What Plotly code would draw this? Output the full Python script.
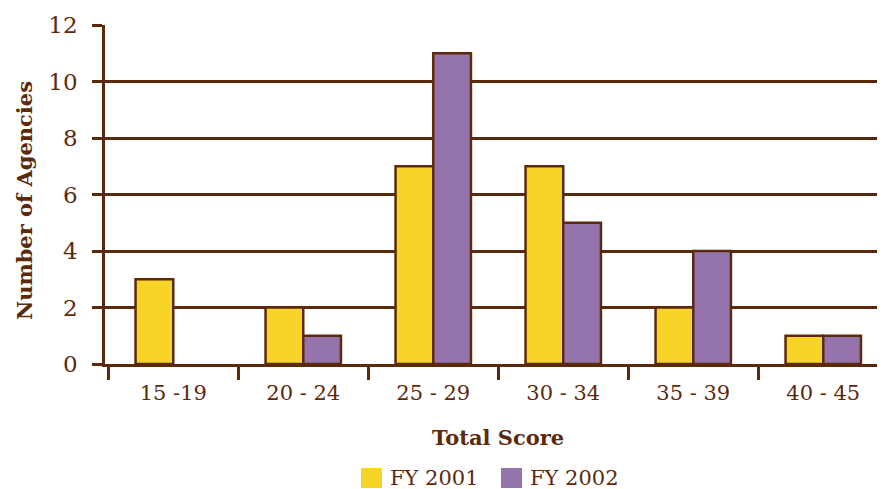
import plotly.graph_objs as go

# data
score_bands = ["15 -19", "20 - 24", "25 - 29", "30 - 34", "35 - 39", "40 - 45"]
fy2001 = [3, 2, 7, 7, 2, 1]
fy2002 = [None, 1, 11, 5, 4, 1]
y_ticks = [0, 2, 4, 6, 8, 10, 12]

brown = "#5b2a0c"
yellow = "#f7d428"
purple = "#9574ad"
font_name = "DejaVu Serif"

# the page body has an 8px margin, so the figure sits at (8, 8)
OFF = 8
W, H = 885 - OFF, 489 - OFF
L, R, T, B = 105 - OFF, 0, 25 - OFF, 489 - 364

fig = go.Figure()
fig.add_trace(go.Bar(x=score_bands, y=fy2001, name="FY 2001",
                     marker=dict(color=yellow, line=dict(color=brown, width=2.5))))
fig.add_trace(go.Bar(x=score_bands, y=fy2002, name="FY 2002",
                     marker=dict(color=purple, line=dict(color=brown, width=2.5))))


def px(x):
    # window pixel -> paper coordinate
    return (x - OFF - L) / (W - L - R)


def py(y):
    return (H - B - (y - OFF)) / (H - T - B)


# legend drawn by hand so the swatches match the original size
legend = [("FY 2001", yellow, 361), ("FY 2002", purple, 501)]
for label, col, x0 in legend:
    fig.add_shape(type="rect", xref="paper", yref="paper",
                  x0=px(x0), x1=px(x0 + 21), y0=py(488), y1=py(468),
                  fillcolor=col, line=dict(width=0))
    fig.add_annotation(text=label, xref="paper", yref="paper",
                       x=px(x0 + 27), y=py(478), xanchor="left", yanchor="middle",
                       showarrow=False, font=dict(size=21, color=brown, family=font_name))

fig.add_annotation(text="<b>Total Score</b>", xref="paper", yref="paper",
                   x=px(498), y=py(437), xanchor="center", yanchor="middle",
                   showarrow=False, font=dict(size=21, color=brown, family=font_name))
fig.add_annotation(text="<b>Number of Agencies</b>", xref="paper", yref="paper",
                   x=px(24), y=py(201), xanchor="center", yanchor="middle", textangle=-90,
                   showarrow=False, font=dict(size=21, color=brown, family=font_name))

fig.update_layout(
    width=W, height=H,
    margin=dict(l=L, r=R, t=T, b=B),
    barmode="group",
    bargap=0.42,
    bargroupgap=0,
    showlegend=False,
    paper_bgcolor="white",
    plot_bgcolor="white",
    font=dict(family=font_name, color=brown, size=22),
    xaxis=dict(
        range=[-0.525, 5.475],
        showline=True, linecolor=brown, linewidth=2.5,
        ticks="outside", tickson="boundaries", ticklen=13, tickwidth=2.5, tickcolor=brown,
        ticklabelstandoff=8,
        showgrid=False, zeroline=False,
        tickfont=dict(size=21, color=brown, family=font_name),
    ),
    yaxis=dict(
        range=[0, 12],
        tickvals=y_ticks,
        showline=True, linecolor=brown, linewidth=2.5,
        ticks="outside", ticklen=10, tickwidth=2.5, tickcolor=brown,
        ticklabelstandoff=10,
        showgrid=True, gridcolor=brown, gridwidth=2.8,
        zeroline=False,
        tickfont=dict(size=23, color=brown, family=font_name),
    ),
)

fig.write_html("out.html")
